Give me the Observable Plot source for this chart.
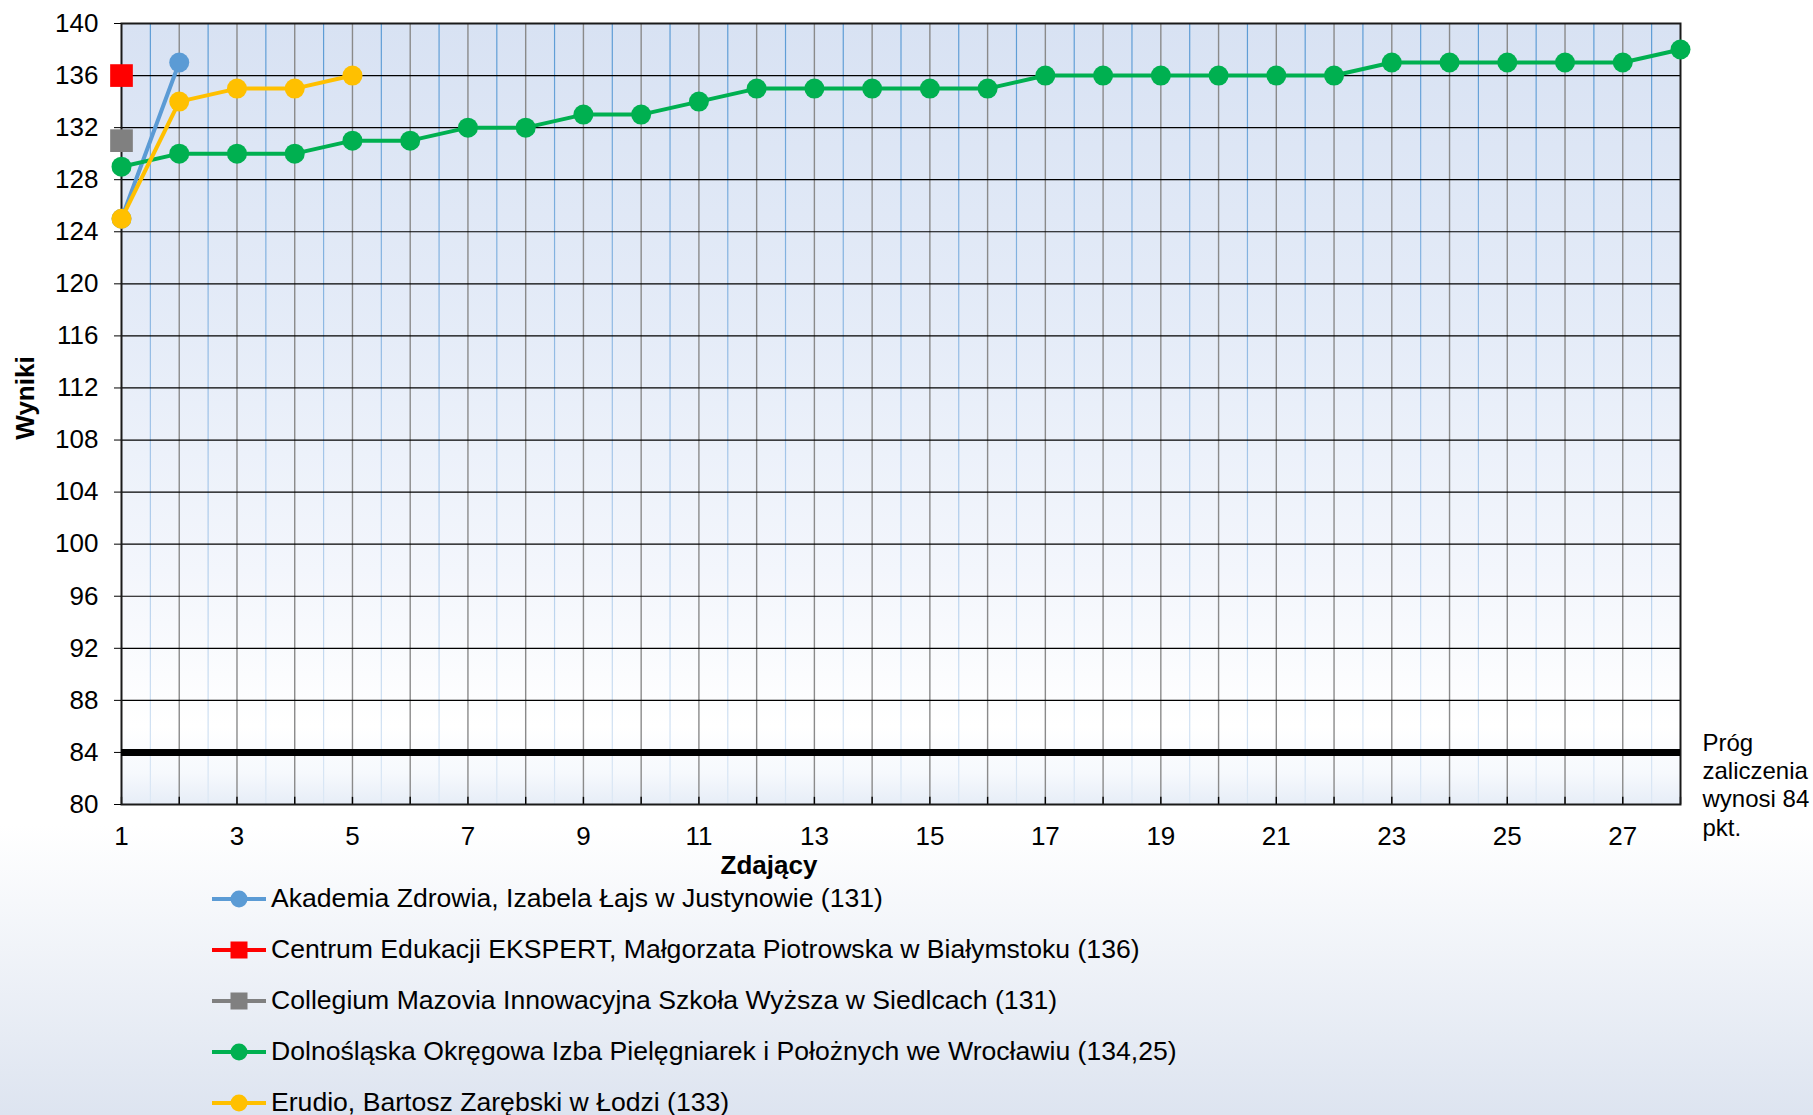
<!DOCTYPE html>
<html><head><meta charset="utf-8">
<script src="https://cdn.jsdelivr.net/npm/d3@7"></script>
<script src="https://cdn.jsdelivr.net/npm/@observablehq/plot@0.6"></script>
<style>
html,body{margin:0;padding:0;background:#fff;}
#chart{position:relative;width:1813px;height:1115px;overflow:hidden;background:linear-gradient(to bottom,#ffffff 0%,#ffffff 74%,#dde4f0 100%);font-family:"Liberation Sans",Arial,sans-serif;}
#chart > svg{display:block;overflow:visible;}
#legend{margin-top:-11px;margin-left:212px;}
.item{display:flex;align-items:center;height:51px;font-size:26.6px;color:#000;white-space:nowrap;}
.item svg{margin-right:5px;flex:none;}
</style></head><body><div id="chart"></div>
<script>
// ---- data ----
const seriesNames = [
  "Akademia Zdrowia, Izabela Łajs w Justynowie (131)",
  "Centrum Edukacji EKSPERT, Małgorzata Piotrowska w Białymstoku (136)",
  "Collegium Mazovia Innowacyjna Szkoła Wyższa w Siedlcach (131)",
  "Dolnośląska Okręgowa Izba Pielęgniarek i Położnych we Wrocławiu (134,25)",
  "Erudio, Bartosz Zarębski w Łodzi (133)"
];
const akademia = [125, 137];
const centrum = [136];
const collegium = [131];
const dolnoslaska = [129,130,130,130,131,131,132,132,133,133,134,135,135,135,135,135,136,136,136,136,136,136,137,137,137,137,137,138];
const erudio = [125,134,135,135,136];
const seriesValues = [akademia, centrum, collegium, dolnoslaska, erudio];
const colors = ["#5b9bd5","#ff0000","#808080","#00b050","#ffc000"];
const symbols = ["circle","square","square","circle","circle"];
const threshold = 84;
const thresholdLabel = "Próg\nzaliczenia\nwynosi 84\npkt.";
const yTicks = [80,84,88,92,96,100,104,108,112,116,120,124,128,132,136,140];
const xLabels = [1,3,5,7,9,11,13,15,17,19,21,23,25,27];
const xMajor = d3.range(1, 29);
const xMinor = d3.range(1.5, 28, 1);
const xTitle = "Zdający";
const yTitle = "Wyniki";

// ---- build ----
const rows = seriesValues.map((vals, s) => vals.map((v, i) => ({series: s, x: i + 1, y: v})));

const seriesMarks = rows.flatMap((data, s) => [
  Plot.line(data, {x: "x", y: "y", stroke: colors[s], strokeWidth: 4}),
  symbols[s] === "square"
    ? Plot.dot(data, {x: "x", y: "y", fill: colors[s], symbol: "square", r: 12.8, stroke: null})
    : Plot.dot(data, {x: "x", y: "y", fill: colors[s], symbol: "circle", r: 10, stroke: null})
]);

const chart = Plot.plot({
  width: 1813, height: 884,
  marginLeft: 121, marginRight: 133, marginTop: 23, marginBottom: 80,
  x: {domain: [1, 28]},
  y: {domain: [80, 140]},
  style: {fontFamily: '"Liberation Sans", Arial, sans-serif', fontSize: "26px", color: "#000", background: "transparent", overflow: "visible"},
  marks: [
    Plot.frame({fill: "url(#plotBg)"}),
    Plot.ruleX(xMinor, {stroke: "url(#minorGrad)", strokeWidth: 1.2}),
    Plot.ruleX(xMajor.slice(1, -1), {stroke: "#8a8a8a", strokeWidth: 1.4}),
    Plot.ruleX(xMajor, {x: d => d, y1: yTicks[0], y2: yTicks[0] + 0.55, stroke: "#000", strokeWidth: 1.4}),
    Plot.ruleY(yTicks, {stroke: "#000", strokeWidth: 1.2}),
    Plot.frame({stroke: "#1a1a1a", strokeWidth: 2}),
    Plot.axisY({ticks: yTicks, tickSize: 7, tickPadding: 16, label: null, fontSize: 26}),
    Plot.axisX({ticks: xLabels, tickSize: 0, tickPadding: 22, label: null, fontSize: 26}),
    Plot.text([yTitle], {text: d => d, frameAnchor: "left", textAnchor: "middle", lineAnchor: "middle", rotate: -90, dx: -96, dy: -16, fontWeight: "bold", fontSize: 26}),
    Plot.text([xTitle], {text: d => d, frameAnchor: "bottom", textAnchor: "middle", lineAnchor: "middle", dx: -132, dy: 61, fontWeight: "bold", fontSize: 26}),
    Plot.ruleY([threshold], {stroke: "#000", strokeWidth: 7}),
    Plot.text([thresholdLabel], {text: d => d, x: xMajor[xMajor.length - 1], y: threshold, dx: 22, dy: 32, textAnchor: "start", lineAnchor: "middle", lineHeight: 1.17, fontSize: 24}),
    ...seriesMarks
  ]
});

const svg = chart.tagName.toLowerCase() === "svg" ? chart : chart.querySelector("svg");
const ns = "http://www.w3.org/2000/svg";
const defs = document.createElementNS(ns, "defs");
defs.innerHTML = `
<linearGradient id="plotBg" x1="0" y1="0" x2="0" y2="1">
  <stop offset="0" stop-color="#d8e2f3"/>
  <stop offset="0.4" stop-color="#e5ecf8"/>
  <stop offset="0.7" stop-color="#f3f6fc"/>
  <stop offset="0.9" stop-color="#ffffff"/>
  <stop offset="0.96" stop-color="#f6f9fd"/>
  <stop offset="1" stop-color="#e6edf7"/>
</linearGradient>
<linearGradient id="minorGrad" gradientUnits="userSpaceOnUse" x1="0" y1="23" x2="0" y2="804">
  <stop offset="0" stop-color="#5b9bd5"/>
  <stop offset="0.5" stop-color="#9dc1e7"/>
  <stop offset="1" stop-color="#dce8f5"/>
</linearGradient>`;
svg.prepend(defs);

const root = document.getElementById("chart");
root.appendChild(chart);

// legend
const legend = document.createElement("div");
legend.id = "legend";
seriesNames.forEach((name, s) => {
  const item = document.createElement("div");
  item.className = "item";
  const marker = symbols[s] === "square"
    ? `<rect x="18.5" y="1.5" width="17" height="17" fill="${colors[s]}"/>`
    : `<circle cx="27" cy="10" r="8.5" fill="${colors[s]}"/>`;
  item.innerHTML = `<svg width="54" height="20"><line x1="0" y1="10" x2="54" y2="10" stroke="${colors[s]}" stroke-width="4"/>${marker}</svg><span>${name}</span>`;
  legend.appendChild(item);
});
root.appendChild(legend);
</script>
</body></html>
